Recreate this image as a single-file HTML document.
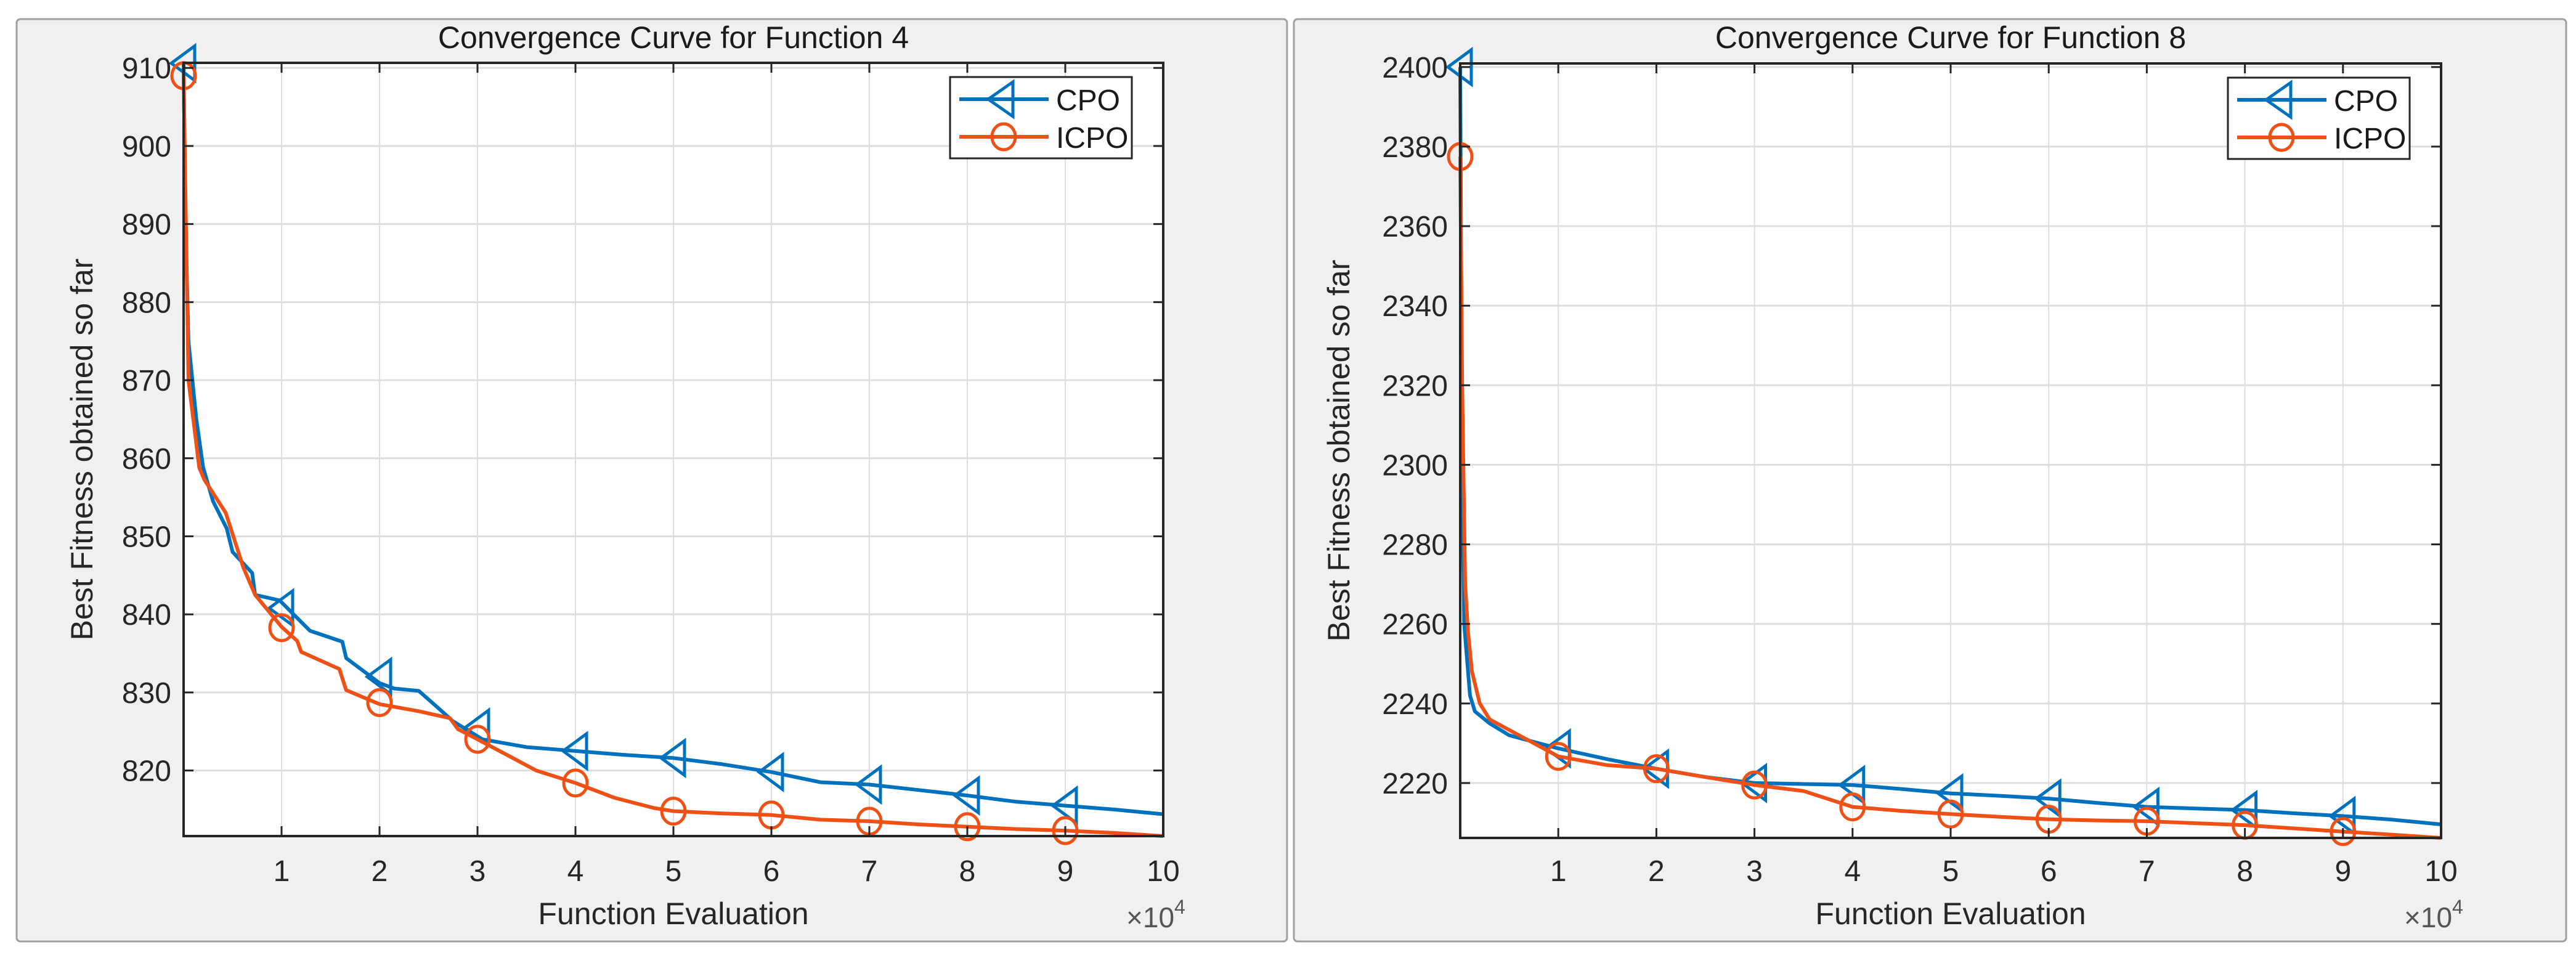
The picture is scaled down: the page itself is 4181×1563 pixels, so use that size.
<!DOCTYPE html>
<html><head><meta charset="utf-8"><style>
html,body{margin:0;padding:0;background:#fff;}
svg{display:block;font-family:"Liberation Sans",Arial,sans-serif;}
</style></head><body>
<svg id="c" width="4181" height="1563" viewBox="0 0 4181 1563" xmlns="http://www.w3.org/2000/svg">
<rect x="0" y="0" width="4181" height="1563" fill="#fff"/>
</svg>
<script>
// ---- Data: Function 4 ----
const f4Xticks = [1,2,3,4,5,6,7,8,9,10];
const f4Yticks = [820,830,840,850,860,870,880,890,900,910];
const f4CpoX = [0,0.02,0.05,0.13,0.2,0.3,0.44,0.5,0.7,0.73,0.98,1.29,1.62,1.66,2,2.15,2.4,2.6,2.75,3.05,3.5,4,4.5,5,5.5,6,6.5,7,7.5,8,8.5,9,9.5,10];
const f4CpoY = [910.6,890,875,865,858.8,854.5,851,848,845.3,842.5,841.8,837.9,836.5,834.4,831.2,830.5,830.2,828,826.3,824,823,822.5,822,821.6,820.8,819.8,818.5,818.2,817.5,816.8,816,815.5,815,814.4];
const f4IcpoX = [0,0.03,0.05,0.16,0.21,0.43,0.61,0.73,1,1.16,1.2,1.59,1.66,2,2.4,2.72,2.8,3,3.3,3.6,4,4.4,4.8,5,5.5,6,6.5,7,7.5,8,8.5,9,9.5,10];
const f4IcpoY = [909,885,870,858.8,857.3,853,846,842.5,838.4,836.6,835.2,833,830.3,828.5,827.6,826.7,825.3,824,822,820,818.4,816.5,815.2,814.8,814.5,814.3,813.7,813.5,813.1,812.8,812.5,812.3,812,811.6];
const f4MarkX = [0,1,2,3,4,5,6,7,8,9];
const f4CpoMark = [910.6,840.8,832,825.5,822.5,821.6,819.8,818.2,816.8,815.5];
const f4IcpoMark = [909,838.3,828.7,824,818.4,814.8,814.3,813.5,812.8,812.3];
// ---- Data: Function 8 ----
const f8Xticks = [1,2,3,4,5,6,7,8,9,10];
const f8Yticks = [2220,2240,2260,2280,2300,2320,2340,2360,2380,2400];
const f8CpoX = [0,0.02,0.04,0.1,0.15,0.3,0.5,0.8,1,1.5,2,2.5,3,4,4.5,5,5.5,6,6.5,7,7.5,8,8.5,9,9.5,10];
const f8CpoY = [2400,2300,2260,2242,2238,2235,2232,2230,2228.7,2226,2223.6,2221.5,2220,2219.5,2218.5,2217.4,2216.8,2216.1,2215,2214,2213.6,2213.2,2212.4,2211.7,2210.8,2209.6];
const f8IcpoX = [0,0.02,0.05,0.08,0.12,0.2,0.3,0.6,1,1.5,2,2.5,3,3.5,4,4.5,5,5.5,6,6.5,7,7.5,8,8.5,9,9.5,10];
const f8IcpoY = [2377.5,2320,2270,2258,2248,2240,2236,2232,2226.7,2224.5,2223.6,2221.5,2219.5,2218,2214,2213,2212.2,2211.5,2210.9,2210.6,2210.4,2209.9,2209.4,2208.6,2207.8,2207,2206.2];
const f8MarkX = [0,1,2,3,4,5,6,7,8,9];
const f8CpoMark = [2400,2228.7,2223.6,2220,2219.5,2217.4,2216.1,2214,2213.2,2211.7];
const f8IcpoMark = [2377.5,2226.7,2223.6,2219.5,2214,2212.2,2210.9,2210.4,2209.4,2207.8];

const NS = "http://www.w3.org/2000/svg";
const svg = document.getElementById('c');
function mk(tag, attrs, parent){
  const e = document.createElementNS(NS, tag);
  for (const k in attrs) e.setAttribute(k, attrs[k]);
  (parent||svg).appendChild(e);
  return e;
}
const BLUE = "#0072BD", RED = "#EE5016";

function chart(o){
  const g = mk('g', {});
  
  
  const panel = mk('rect', {x:o.fx, y:31, width:o.fw, height:1497, fill:'#f0f0f0', stroke:'#a0a0a0', 'stroke-width':3, rx:6}, g);
  
  
  const L=o.L, R=o.R, T=o.T, B=o.B;
  const sx = v => L + (v - 0) / 10 * (R - L);
  const sy = v => B - (v - o.ymin) / (o.ymax - o.ymin) * (B - T);
  const bg = mk('rect', {x:L, y:T, width:R-L, height:B-T, fill:'#fff'}, g);
  
  
  // grid
  o.xticks.forEach(v => {
    const l = mk('line', {x1:sx(v), x2:sx(v), y1:T, y2:B, stroke:'#dedede', 'stroke-width':2}, g);
    
    
  });
  o.yticks.forEach(v => {
    if (sy(v) < T-1) return;
    const l = mk('line', {x1:L, x2:R, y1:sy(v), y2:sy(v), stroke:'#dedede', 'stroke-width':3}, g);
    
    
  });
  // series
  function series(xs, ys, mx, my, color, mark, nm){
    const sg = mk('g', {}, g);
    
    
    const pts = xs.map((x,i)=> sx(x).toFixed(1)+','+sy(Math.max(ys[i],o.ymin)).toFixed(1)).join(' ');
    const pl = mk('polyline', {points:pts, fill:'none', stroke:color, 'stroke-width':6, 'stroke-linejoin':'round'}, sg);
    
    
    mx.forEach((x,i)=>{
      const cx = sx(x), cy = sy(my[i]);
      let m;
      if (mark==='tri') m = mk('polygon', {points:`${cx-20},${cy} ${cx+18},${cy-28} ${cx+18},${cy+28}`, fill:'none', stroke:color, 'stroke-width':5}, sg);
      else m = mk('ellipse', {cx:cx, cy:cy, rx:19, ry:21, fill:'none', stroke:color, 'stroke-width':5}, sg);
      
      
    });
  }
  series(o.cpoX, o.cpoY, o.mX, o.cpoM, BLUE, 'tri', 'cpo');
  series(o.icpoX, o.icpoY, o.mX, o.icpoM, RED, 'circ', 'icpo');
  // axes box
  const box = mk('rect', {x:L, y:T, width:R-L, height:B-T, fill:'none', stroke:'#262626', 'stroke-width':4}, g);
  
  
  // ticks
  o.xticks.forEach(v => {
    mk('line', {x1:sx(v), x2:sx(v), y1:B, y2:B-16, stroke:'#262626', 'stroke-width':3}, g);
    mk('line', {x1:sx(v), x2:sx(v), y1:T, y2:T+16, stroke:'#262626', 'stroke-width':3}, g);
    const t = mk('text', {x:sx(v), y:1430, 'font-size':48, 'text-anchor':'middle', fill:'#262626'}, g);
    t.textContent = v;
    
    
  });
  o.yticks.forEach(v => {
    const y = sy(v);
    mk('line', {x1:L, x2:L+16, y1:y, y2:y, stroke:'#262626', 'stroke-width':3}, g);
    mk('line', {x1:R, x2:R-16, y1:y, y2:y, stroke:'#262626', 'stroke-width':3}, g);
    const t = mk('text', {x:L-20, y:y+17, 'font-size':48, 'text-anchor':'end', fill:'#262626'}, g);
    t.textContent = v;
    
    
  });
  const tt = mk('text', {x:(L+R)/2, y:78, 'font-size':50, 'text-anchor':'middle', fill:'#1a1a1a'}, g);
  tt.textContent = o.title;
  
  
  const xl = mk('text', {x:(L+R)/2, y:1500, 'font-size':50, 'text-anchor':'middle', fill:'#262626'}, g);
  xl.textContent = 'Function Evaluation';
  
  
  const ex = mk('text', {x:R-60, y:1505, 'font-size':46, fill:'#555'}, g);
  ex.innerHTML = '×10<tspan dy="-22" font-size="32">4</tspan>';
  
  
  const yl = mk('text', {x:0, y:0, 'font-size':50, 'text-anchor':'middle', fill:'#262626', transform:`translate(${o.ylx},${(T+B)/2}) rotate(-90)`}, g);
  yl.textContent = 'Best Fitness obtained so far';
  
  
  // legend
  const lg = mk('g', {}, g);
  
  
  const lx = R - 346, ly = T + 23;
  mk('rect', {x:lx, y:ly, width:295, height:132, fill:'#fff', stroke:'#262626', 'stroke-width':3}, lg);
  mk('line', {x1:lx+15, x2:lx+160, y1:ly+36, y2:ly+36, stroke:BLUE, 'stroke-width':6}, lg);
  mk('polygon', {points:`${lx+62},${ly+36} ${lx+102},${ly+8} ${lx+102},${ly+64}`, fill:'none', stroke:BLUE, 'stroke-width':5}, lg);
  mk('line', {x1:lx+15, x2:lx+160, y1:ly+97, y2:ly+97, stroke:RED, 'stroke-width':6}, lg);
  mk('ellipse', {cx:lx+87, cy:ly+97, rx:19, ry:21, fill:'none', stroke:RED, 'stroke-width':5}, lg);
  const l1 = mk('text', {x:lx+172, y:ly+54, 'font-size':48, fill:'#1a1a1a'}, lg);
  l1.textContent = 'CPO';
  
  
  const l2 = mk('text', {x:lx+172, y:ly+115, 'font-size':48, fill:'#1a1a1a'}, lg);
  l2.textContent = 'ICPO';
  
  
}

chart({name:'chart-function-4', title:'Convergence Curve for Function 4', fx:27, fw:2062,
  L:298, R:1888, T:102, B:1357, ymin:811.6, ymax:910.65, ylx:150,
  xticks:f4Xticks, yticks:f4Yticks, cpoX:f4CpoX, cpoY:f4CpoY, icpoX:f4IcpoX, icpoY:f4IcpoY,
  mX:f4MarkX, cpoM:f4CpoMark, icpoM:f4IcpoMark});
chart({name:'chart-function-8', title:'Convergence Curve for Function 8', fx:2100, fw:2065,
  L:2370, R:3962, T:103, B:1360, ymin:2206.2, ymax:2400.9, ylx:2190,
  xticks:f8Xticks, yticks:f8Yticks, cpoX:f8CpoX, cpoY:f8CpoY, icpoX:f8IcpoX, icpoY:f8IcpoY,
  mX:f8MarkX, cpoM:f8CpoMark, icpoM:f8IcpoMark});
</script>
</body></html>
